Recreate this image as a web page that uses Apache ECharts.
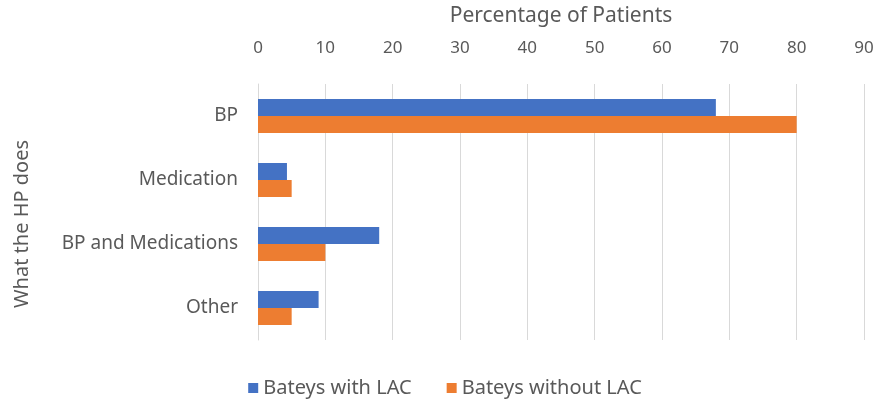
<!DOCTYPE html>
<html>
<head>
<meta charset="utf-8">
<script src="https://cdn.jsdelivr.net/npm/echarts@6/dist/echarts.min.js"></script>
<style>
  html, body { margin: 0; padding: 0; background: #fff; }
  #chart { width: 890px; height: 403px; }
</style>
</head>
<body>
<div id="chart"></div>
<script>
// categories, top to bottom
var categories = ["BP", "Medication", "BP and Medications", "Other"];
var seriesNames = ["Bateys with LAC", "Bateys without LAC"];
var withLAC = [68, 4.3, 18, 9];
var withoutLAC = [80, 5, 10, 5];
var xMin = 0, xMax = 90, xStep = 10;

var textColor = "#595959";
var font = "Noto Sans";

var myChart = echarts.init(document.getElementById("chart"));
myChart.setOption({
  animation: false,
  textStyle: { fontFamily: font },
  grid: { left: 258, right: 26, top: 84, bottom: 63 },
  legend: {
    data: seriesNames,
    bottom: 0,
    left: "center",
    itemWidth: 10,
    itemHeight: 10,
    itemGap: 35,
    icon: "rect",
    textStyle: { color: textColor, fontSize: 20, fontFamily: font }
  },
  xAxis: {
    type: "value",
    position: "top",
    min: xMin,
    max: xMax,
    interval: xStep,
    name: "Percentage of Patients",
    nameLocation: "middle",
    nameGap: 57,
    nameTextStyle: { color: textColor, fontSize: 21 },
    axisLabel: { color: textColor, fontSize: 17, margin: 27 },
    axisLine: { show: false },
    axisTick: { show: false },
    splitLine: { show: true, lineStyle: { color: "#d9d9d9", width: 1 } }
  },
  yAxis: {
    type: "category",
    data: categories,
    inverse: true,
    name: "What the HP does",
    nameLocation: "middle",
    nameGap: 226,
    nameRotate: 90,
    nameTextStyle: { color: textColor, fontSize: 20, padding: [0, 24, 0, 0] },
    axisLabel: { color: textColor, fontSize: 19, margin: 20 },
    axisLine: { show: true, lineStyle: { color: "#d9d9d9" } },
    axisTick: { show: false }
  },
  series: [
    {
      name: seriesNames[0],
      type: "bar",
      data: withLAC,
      barWidth: 17,
      barGap: "0%",
      itemStyle: { color: "#4472C4" }
    },
    {
      name: seriesNames[1],
      type: "bar",
      data: withoutLAC,
      barWidth: 17,
      barGap: "0%",
      itemStyle: { color: "#ED7D31" }
    }
  ]
});
</script>
</body>
</html>
